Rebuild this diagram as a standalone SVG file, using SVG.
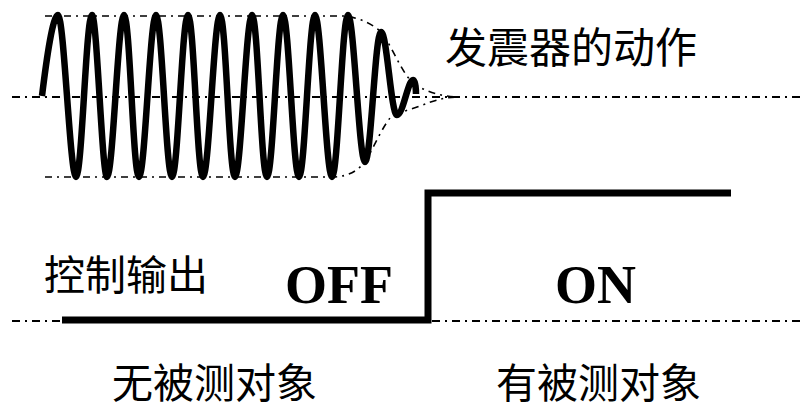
<svg xmlns="http://www.w3.org/2000/svg" width="803" height="410" viewBox="0 0 803 410">
  <style>
    .axis { fill: none; stroke: #000; stroke-width: 2; stroke-dasharray: 8 5 2 5; }
    .env { fill: none; stroke: #000; stroke-width: 1.6; stroke-dasharray: 7 5 2 5; }
    .thick { fill: none; stroke: #000; stroke-width: 6.5; stroke-linejoin: round; }
    .step { fill: none; stroke: #000; stroke-width: 7; stroke-linejoin: miter; }
    .cjk { font-family: "Noto Sans CJK SC", "Noto Sans", sans-serif; fill: #000; }
    .big { font-family: "Liberation Serif", "Times New Roman", serif; font-weight: bold; fill: #000; }
  </style>
  <rect width="803" height="410" fill="#fff"/>

  <g id="connectors">
    <line class="axis" x1="12" y1="97" x2="800" y2="97"/>
    <line class="axis" x1="12" y1="321" x2="803" y2="321"/>
    <path class="env" d="M45,16 L345,16 C360,18 372,24 380,31 C392,45 400,70 412,82 C425,92 440,96 458,97"/>
    <path class="env" d="M45,177 L335,177 C350,176 358,170 365,162 C375,145 382,128 390,118 C398,112 410,110 420,106 C435,100 445,97 460,97"/>
  </g>

  <g id="oscillation">
    <path class="thick" d="M42,96 C47,55 53,15 58,15
      C64,15 70,177 76,177
      C82,177 86,15 92,15
      C97,15 102,177 107,177
      C113,177 118,15 124,15
      C130,15 133,177 139,177
      C145,177 150,15 156,15
      C162,15 166,177 172,177
      C178,177 182,15 188,15
      C194,15 197,177 203,177
      C209,177 214,15 220,15
      C226,15 229,177 235,177
      C241,177 246,15 252,15
      C258,15 261,177 267,177
      C273,177 277,15 283,15
      C289,15 293,177 299,177
      C305,177 309,15 315,15
      C321,15 326,177 332,177
      C338,177 342,15 348,15
      C354,15 359,162 365,162
      C371,162 375,32 381,32
      C387,32 391,115 397,115
      C403,115 408,80 413,80
      C415,80 416,88 416,94"/>
  </g>

  <g id="control-output">
    <path class="step" d="M62,320 L428,320 L428,193 L731,193"/>
  </g>

  <g id="labels">
    <text id="label-oscillator" class="cjk" x="445" y="63" font-size="42">发震器的动作</text>
    <text id="label-control" class="cjk" x="44" y="290" font-size="41">控制输出</text>
    <text id="label-off" class="big" x="285" y="303" font-size="54">OFF</text>
    <text id="label-on" class="big" x="555" y="303" font-size="54">ON</text>
    <text id="label-absent" class="cjk" x="112" y="398" font-size="41">无被测对象</text>
    <text id="label-present" class="cjk" x="496" y="398" font-size="41">有被测对象</text>
  </g>
</svg>
